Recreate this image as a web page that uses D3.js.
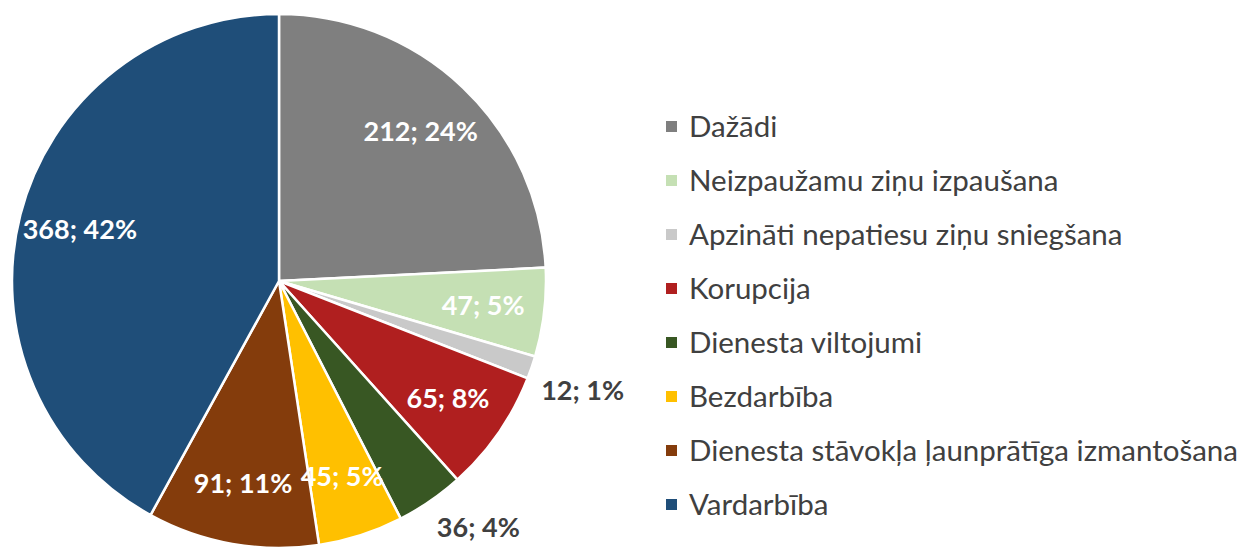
<!DOCTYPE html>
<html>
<head>
<meta charset="utf-8">
<script src="https://cdn.jsdelivr.net/npm/d3@7"></script>
<style>
  body { margin: 0; background: #fff; }
  svg { display: block; font-family: Lato, "Open Sans", sans-serif; }
</style>
</head>
<body>
<div id="chartContainer"></div>
<script>
const categories = [
  'Dažādi',
  'Neizpaužamu ziņu izpaušana',
  'Apzināti nepatiesu ziņu sniegšana',
  'Korupcija',
  'Dienesta viltojumi',
  'Bezdarbība',
  'Dienesta stāvokļa ļaunprātīga izmantošana',
  'Vardarbība'
];
const values = [212, 47, 12, 65, 36, 45, 91, 368];
const percentLabels = ['24%', '5%', '1%', '8%', '4%', '5%', '11%', '42%'];
const colors = ['#7f7f7f', '#c5e0b4', '#c9c9c9', '#b01f1f', '#385723', '#ffc000', '#843c0c', '#1f4e79'];

const width = 1241;
const height = 547;
const cx = 279;
const cy = 281;
const radius = 267;

const svg = d3.select('#chartContainer')
  .append('svg')
  .attr('width', width)
  .attr('height', height);

const data = categories.map((name, i) => ({ name, value: values[i], pct: percentLabels[i], color: colors[i] }));
const total = d3.sum(values);

const pie = d3.pie().value(d => d.value).sort(null);
const arcs = pie(data);

const arc = d3.arc().innerRadius(0).outerRadius(radius);
const inLabelArc = d3.arc().innerRadius(radius * 0.77).outerRadius(radius * 0.77);
const edgeArc = d3.arc().innerRadius(radius * 1.03).outerRadius(radius * 1.03);

const g = svg.append('g').attr('transform', 'translate(' + cx + ',' + cy + ')');

// slices
g.selectAll('.slice')
  .data(arcs)
  .enter()
  .append('path')
  .attr('class', 'slice')
  .attr('d', arc)
  .attr('fill', d => d.data.color)
  .attr('stroke', '#fff')
  .attr('stroke-width', 2.5)
  .attr('stroke-linejoin', 'round');

// small slices get their label outside, hanging below the rim
const isOutside = d => d.data.value / total < 0.05;

g.selectAll('.label')
  .data(arcs)
  .enter()
  .append('text')
  .attr('class', 'label')
  .attr('transform', d => {
    if (isOutside(d)) {
      const p = edgeArc.centroid(d);
      return 'translate(' + (p[0] + 2) + ',' + (p[1] + 20) + ')';
    }
    return 'translate(' + inLabelArc.centroid(d) + ')';
  })
  .attr('text-anchor', d => isOutside(d) ? 'start' : 'middle')
  .attr('dy', '0.35em')
  .attr('font-size', 27)
  .attr('font-weight', 'bold')
  .attr('fill', d => isOutside(d) ? '#404040' : '#fff')
  .text(d => d.data.value + '; ' + d.data.pct);

// legend
const legendY = d3.scalePoint()
  .domain(categories)
  .range([127, 505]);

const legend = svg.append('g').attr('class', 'legend');

const item = legend.selectAll('.item')
  .data(data)
  .enter()
  .append('g')
  .attr('class', 'item')
  .attr('transform', d => 'translate(666,' + legendY(d.name) + ')');

item.append('rect')
  .attr('x', 0)
  .attr('y', -6)
  .attr('width', 11)
  .attr('height', 11)
  .attr('fill', d => d.color);

item.append('text')
  .attr('x', 23)
  .attr('dy', '0.35em')
  .attr('font-size', 29.5)
  .attr('fill', '#404040')
  .text(d => d.name);
</script>
</body>
</html>
